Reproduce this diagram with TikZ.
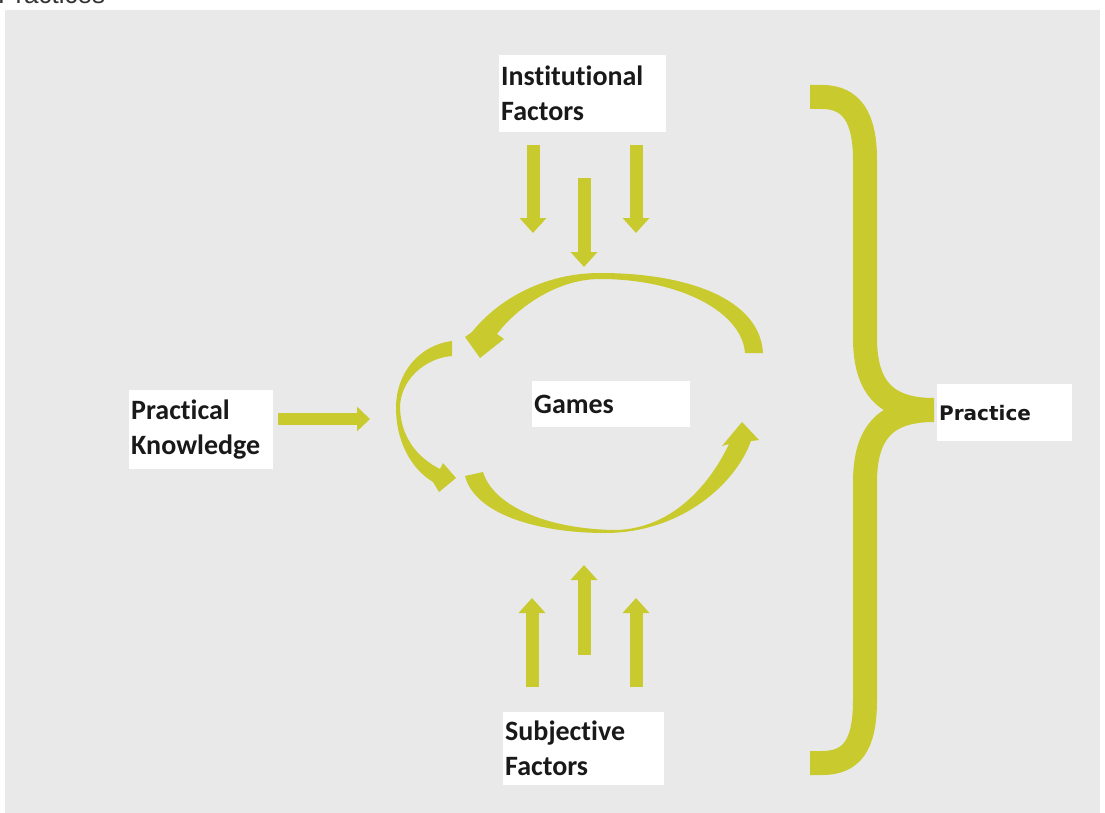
\documentclass[tikz,border=0pt]{standalone}
\usepackage{fontspec}
\setmainfont{Carlito}[Ligatures=NoCommon]
\newfontfamily\bracefont{DejaVu Sans}
\newfontfamily\headfont{Liberation Sans}
\usepackage{tikz}
\usetikzlibrary{arrows.meta}
\usetikzlibrary{positioning}
\definecolor{gamelime}{RGB}{201,202,46}
\definecolor{panelgray}{RGB}{233,233,234}

\begin{document}
\begin{tikzpicture}[x=1pt,y=-1pt,
		labelbox/.style={fill=white, inner sep=2pt, anchor=north west, align=left,
			text=black!90, font=\bfseries\fontsize{28}{35}\selectfont},
		fatarrow/.style={draw=gamelime, line width=13pt, -{Triangle[length=15pt,width=26pt]}},
		bracestroke/.style={draw=gamelime, line width=24pt}
	]
				\useasboundingbox (0,0) rectangle (1105,813);
				\clip (0,0) rectangle (1105,813);

				\node [anchor=base west, inner sep=0pt, text=black!80,
					font=\headfont\fontsize{26}{26}\selectfont] (title) at (-2,4) {Practices};
				\fill [panelgray] (5,10) rectangle (1100,813);

				\node [labelbox, text width=163pt, minimum height=77pt] (inst) at (499,55) {Institutional\\Factors};
				\node [labelbox, text width=140pt, minimum height=79pt] (know) at (129,390) {Practical\\Knowledge};
				\node [labelbox, text width=157pt, minimum height=73pt] (subj) at (503,712) {Subjective\\Factors};
				\node [labelbox, text width=154pt, minimum height=46pt] (games) at (532,381) {Games};
				\node [labelbox, text width=131pt, minimum height=57pt, inner sep=2pt,
					font=\bracefont\bfseries\fontsize{20}{24}\selectfont] (prac) at (937,384) {Practice};

				\foreach \i/\x/\a/\b in {1/533/145/233, 2/584/178/267, 3/636/145/233} {
					\coordinate (down-\i-a) at (\x,\a);
					\coordinate (down-\i-b) at (\x,\b);
					\draw [fatarrow] (down-\i-a) -- (down-\i-b);
				}
				\foreach \i/\x/\a/\b in {1/532/687/598, 2/584/655/565, 3/636/687/598} {
					\coordinate (up-\i-a) at (\x,\a);
					\coordinate (up-\i-b) at (\x,\b);
					\draw [fatarrow] (up-\i-a) -- (up-\i-b);
				}
				\coordinate (know-a) at (278,419);
				\coordinate (know-b) at (370,419);
				\draw [fatarrow, line width=12pt, -{Triangle[length=13pt,width=24pt]}] (know-a) -- (know-b);

				\fill [gamelime] (763,353) .. controls (760,300) and (690,273) .. (600,273)
						.. controls (540,273) and (495,303) .. (472,332)
						-- (465,337) -- (480,358) -- (504,339) -- (497,334)
						.. controls (515,310) and (555,279) .. (600,279)
						.. controls (680,279) and (742,312) .. (745,353) -- cycle;
				\fill [gamelime] (452,341) .. controls (420,345) and (396,372) .. (396,408)
						.. controls (396,440) and (410,468) .. (433,482)
						-- (439,492) -- (456,478) -- (443,463) -- (440,469)
						.. controls (418,458) and (401,438) .. (400,408)
						.. controls (400,380) and (425,358) .. (452,356) -- cycle;
				\fill [gamelime] (465,476) .. controls (475,515) and (540,533) .. (605,533)
						.. controls (680,533) and (735,485) .. (751,441)
						-- (759,440) -- (742,422) -- (722,446) -- (729,444)
						.. controls (712,480) and (675,529) .. (615,530)
						.. controls (545,529) and (493,505) .. (483,472) -- cycle;

				\coordinate (brace-tip) at (934,410);
				\draw [bracestroke] (810,97) -- (822,97) .. controls (852,97) and (865,118) .. (865,160)
						-- (865,338) .. controls (865,390) and (888,410) .. (brace-tip);
				\draw [bracestroke] (brace-tip) .. controls (888,410) and (865,430) .. (865,482)
						-- (865,700) .. controls (865,745) and (852,763) .. (822,763) -- (810,763);
			\end{tikzpicture}
\end{document}
